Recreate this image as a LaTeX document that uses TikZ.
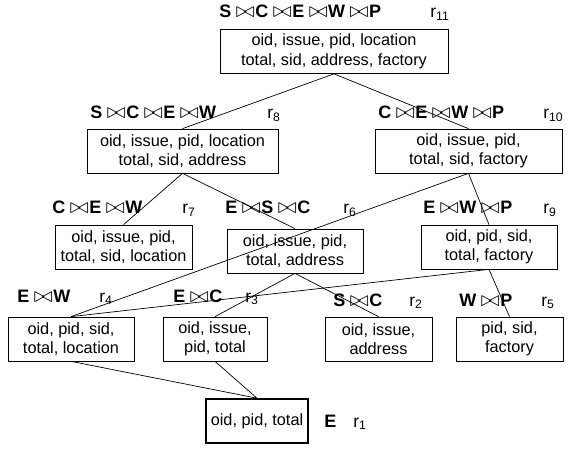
\documentclass[tikz,border=0pt]{standalone}
\usepackage{fontspec}
\setmainfont{Liberation Sans}
\usetikzlibrary{positioning}
\newcommand{\jn}{\kern4.5pt{\mdseries\scalebox{1.35}[1.25]{$\bowtie$}}\kern0.5pt}

\begin{document}
\begin{tikzpicture}[x=1pt,y=-1pt,line width=0.7pt,
    rel/.style={draw,align=center,inner sep=0pt,minimum height=44pt,font=\fontsize{16.3}{19.5}\selectfont},
    expr/.style={anchor=base west,inner sep=0pt,font=\fontsize{18}{20}\selectfont\bfseries},
    rname/.style={anchor=base west,inner sep=0pt,font=\fontsize{17.5}{20}\selectfont}]
\useasboundingbox (0,0) rectangle (573,449);
\node[rel,minimum width=228pt] (r11) at (334,51.5) {oid, issue, pid, location\\total, sid, address, factory};
\node[rel,minimum width=191pt] (r8) at (182.5,151) {oid, issue, pid, location\\total, sid, address};
\node[rel,minimum width=187pt] (r10) at (468.5,151) {oid, issue, pid,\\total, sid, factory};
\node[rel,minimum width=137pt] (r7) at (123.5,247) {oid, issue, pid,\\total, sid, location};
\node[rel,minimum width=136pt] (r6) at (295,251) {oid, issue, pid,\\total, address};
\node[rel,minimum width=136pt] (r9) at (489,247) {oid, pid, sid,\\total, factory};
\node[rel,minimum width=126pt] (r4) at (71,339) {oid, pid, sid,\\total, location};
\node[rel,minimum width=104pt] (r3) at (215,339) {oid, issue,\\pid, total};
\node[rel,minimum width=107pt] (r2) at (378.5,339) {oid, issue,\\address};
\node[rel,minimum width=107pt] (r5) at (509.5,339) {pid, sid,\\factory};
\node[rel,minimum width=102pt,line width=1.6pt] (r1) at (257,421) {oid, pid, total};

\node[expr] (j11) at (219,18) {S\jn C\jn E\jn W\jn P};
\node[rname] (n11) at (430,18) {r\textsubscript{11}};
\node[expr] (j8) at (90,119) {S\jn C\jn E\jn W};
\node[rname] (n8) at (267,119) {r\textsubscript{8}};
\node[expr] (j10) at (378,119) {C\jn E\jn W\jn P};
\node[rname] (n10) at (543,119) {r\textsubscript{10}};
\node[expr] (j7) at (52,214) {C\jn E\jn W};
\node[rname] (n7) at (182,214) {r\textsubscript{7}};
\node[expr] (j6) at (225,214) {E\jn S\jn C};
\node[rname] (n6) at (343,214) {r\textsubscript{6}};
\node[expr] (j9) at (423,214) {E\jn W\jn P};
\node[rname] (n9) at (543,214) {r\textsubscript{9}};
\node[expr] (j4) at (17,302) {E\jn W};
\node[rname] (n4) at (99,302) {r\textsubscript{4}};
\node[expr] (j3) at (173,302) {E\jn C};
\node[rname] (n3) at (245,302) {r\textsubscript{3}};
\node[expr] (j2) at (333,306) {S\jn C};
\node[rname] (n2) at (409,306) {r\textsubscript{2}};
\node[expr] (j5) at (459,306) {W\jn P};
\node[rname] (n5) at (541,306) {r\textsubscript{5}};
\node[expr] (j1) at (324,427) {E};
\node[rname] (n1) at (353,427) {r\textsubscript{1}};

\draw (r11.south) -- (r8.north) (r11.south) -- (r10.north);
\draw (r8.south) -- (r7.north) (r8.south) -- (r6.north);
\draw (r10.south) -- (r4.north) (r10.south) -- (r9.north);
\draw (r6.south) -- (r3.north) (r6.south) -- (r2.north);
\draw (r9.south) -- (r4.north) (r9.south) -- (r5.north);
\draw (r4.south) -- (r1.north) (r3.south) -- (r1.north);
\end{tikzpicture}
\end{document}
